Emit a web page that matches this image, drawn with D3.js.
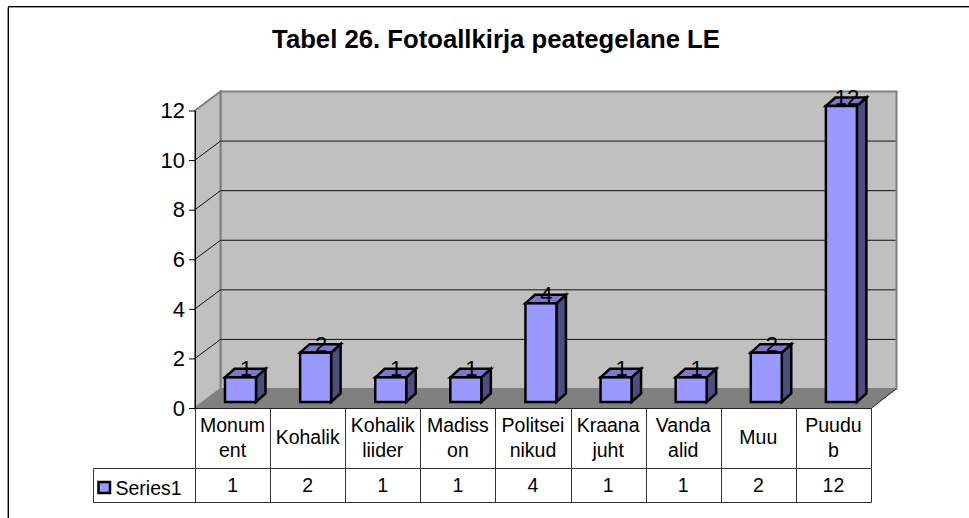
<!DOCTYPE html>
<html>
<head>
<meta charset="utf-8">
<script src="https://cdn.jsdelivr.net/npm/d3@7"></script>
<style>
html, body { margin: 0; padding: 0; background: #fff; }
svg { display: block; font-family: "Liberation Sans", Arial, sans-serif; }
</style>
</head>
<body>
<svg id="chart" width="969" height="518"></svg>
<script>
const chartTitle = "Tabel 26. Fotoallkirja peategelane LE";
const seriesName = "Series1";
const categories = ["Monument", "Kohalik", "Kohalik liider", "Madisson", "Politseinikud", "Kraana juht", "Vanda alid", "Muu", "Puudub"];
const categoryLines = [["Monum", "ent"], ["Kohalik"], ["Kohalik", "liider"], ["Madiss", "on"], ["Politsei", "nikud"], ["Kraana", "juht"], ["Vanda", "alid"], ["Muu"], ["Puudu", "b"]];
const values = [1, 2, 1, 1, 4, 1, 1, 2, 12];
const yTicks = [0, 2, 4, 6, 8, 10, 12];

const svg = d3.select("#chart");

// outer frame, only left and top are visible in the source
svg.append("path")
	.attr("d", "M7.5,518V7.5H969")
	.attr("fill", "none").attr("stroke", "#999");
svg.append("path")
	.attr("d", "M8.5,518V6.5H969")
	.attr("fill", "none").attr("stroke", "#000");

svg.append("text")
	.attr("x", 496).attr("y", 48)
	.attr("text-anchor", "middle")
	.attr("font-size", 25.7).attr("font-weight", "bold")
	.text(chartTitle);

const x = d3.scaleBand().domain(categories).range([195, 871]);
const y = d3.scaleLinear().domain([0, 12]).range([408, 110.5]);
// bars stand a little inside the floor so they get their own scale
const barY = d3.scaleLinear().domain([0, 12]).range([402, 106]);
// depth offset of the back wall
const dx = 25.5, dy = -19;

const wall = svg.append("g");
// back wall, side wall, floor
wall.append("path")
	.attr("d", `M${195 + dx},${y(0) + dy}H${871 + dx}V${y(12) + dy}H${195 + dx}Z`)
	.attr("fill", "#c0c0c0").attr("stroke", "#808080").attr("stroke-width", 2);
wall.append("path")
	.attr("d", `M195,${y(0)}L${195 + dx},${y(0) + dy}V${y(12) + dy}L195,${y(12)}Z`)
	.attr("fill", "#c0c0c0").attr("stroke", "#808080").attr("stroke-width", 2);
wall.append("path")
	.attr("d", `M195,${y(0)}H871L${871 + dx},${y(0) + dy}H${195 + dx}Z`)
	.attr("fill", "#808080");

yTicks.filter(d => d > 0 && d < 12).forEach(d => {
	wall.append("path")
		.attr("d", `M195,${y(d)}L${195 + dx},${y(d) + dy}H${871 + dx - 1}`)
		.attr("fill", "none").attr("stroke", "#111").attr("stroke-width", 1);
});

// value axis
const yAxis = d3.axisLeft(y).tickValues(yTicks).tickSize(6).tickPadding(4).tickSizeOuter(0);
const axisG = svg.append("g").attr("transform", "translate(195,0)").call(yAxis);
axisG.selectAll("path, line").attr("stroke", "#000").attr("stroke-width", 1);
axisG.selectAll("text").attr("font-size", 22).attr("font-family", "Liberation Sans").attr("fill", "#000").attr("dy", "0.33em");

// bars
const barW = 31, depthX = 9.5, depthY = -8.5, barInset = 30;
const bars = svg.append("g").selectAll("g").data(categories).join("g");
bars.each(function(c, i) {
	const g = d3.select(this);
	const x0 = x(c) + barInset;
	const base = barY(0);
	const top = barY(values[i]);
	g.append("path")
		.attr("d", `M${x0 + barW},${top}l${depthX},${depthY}V${base + depthY}l${-depthX},${-depthY}Z`)
		.attr("fill", "#4d4d80").attr("stroke", "#000").attr("stroke-width", 2.5);
	g.append("path")
		.attr("d", `M${x0},${top}l${depthX},${depthY}h${barW}l${-depthX},${-depthY}Z`)
		.attr("fill", "#7a7acc").attr("stroke", "#000").attr("stroke-width", 2.5);
	g.append("rect")
		.attr("x", x0).attr("y", top).attr("width", barW).attr("height", base - top)
		.attr("fill", "#9999ff").attr("stroke", "#000").attr("stroke-width", 2.5);
	g.append("text")
		.attr("x", x0 + 21).attr("y", top - 1)
		.attr("text-anchor", "middle")
		.attr("font-size", 22)
		.text(values[i]);
});

// data table under the chart
const tableTop = 408, rowMid = 468, tableBottom = 502, tableLeft = 93;
const table = svg.append("g");
table.append("path")
	.attr("d", `M${tableLeft + 0.5},${rowMid + 0.5}H871.5V${tableBottom + 0.5}H${tableLeft + 0.5}Z`)
	.attr("fill", "none").attr("stroke", "#333").attr("stroke-width", 1);
table.append("path")
	.attr("d", `M871.5,${tableTop}V${rowMid}`)
	.attr("stroke", "#333");
categories.forEach(c => {
	table.append("path")
		.attr("d", `M${Math.round(x(c)) + 0.5},${tableTop}V${tableBottom}`)
		.attr("stroke", "#333");
});
table.append("path")
	.attr("d", `M195,${tableTop + 0.5}H871L896,${tableTop - 19}`)
	.attr("fill", "none").attr("stroke", "#222");

categories.forEach((c, i) => {
	const lines = categoryLines[i];
	const cx = x(c) + x.bandwidth() / 2;
	const mid = (tableTop + rowMid) / 2;
	lines.forEach((t, k) => {
		table.append("text")
			.attr("x", cx)
			.attr("y", mid + (k - (lines.length - 1) / 2) * 25 + 6)
			.attr("text-anchor", "middle")
			.attr("font-size", 19.5)
			.text(t);
	});
	table.append("text")
		.attr("x", cx).attr("y", 492)
		.attr("text-anchor", "middle")
		.attr("font-size", 19.5)
		.text(values[i]);
});

// legend key
table.append("rect")
	.attr("x", 98.5).attr("y", 482).attr("width", 11.5).attr("height", 11)
	.attr("fill", "#9999ff").attr("stroke", "#000").attr("stroke-width", 2.5);
table.append("text")
	.attr("x", 115.5).attr("y", 494.5)
	.attr("font-size", 19.5)
	.text(seriesName);
</script>
</body>
</html>
